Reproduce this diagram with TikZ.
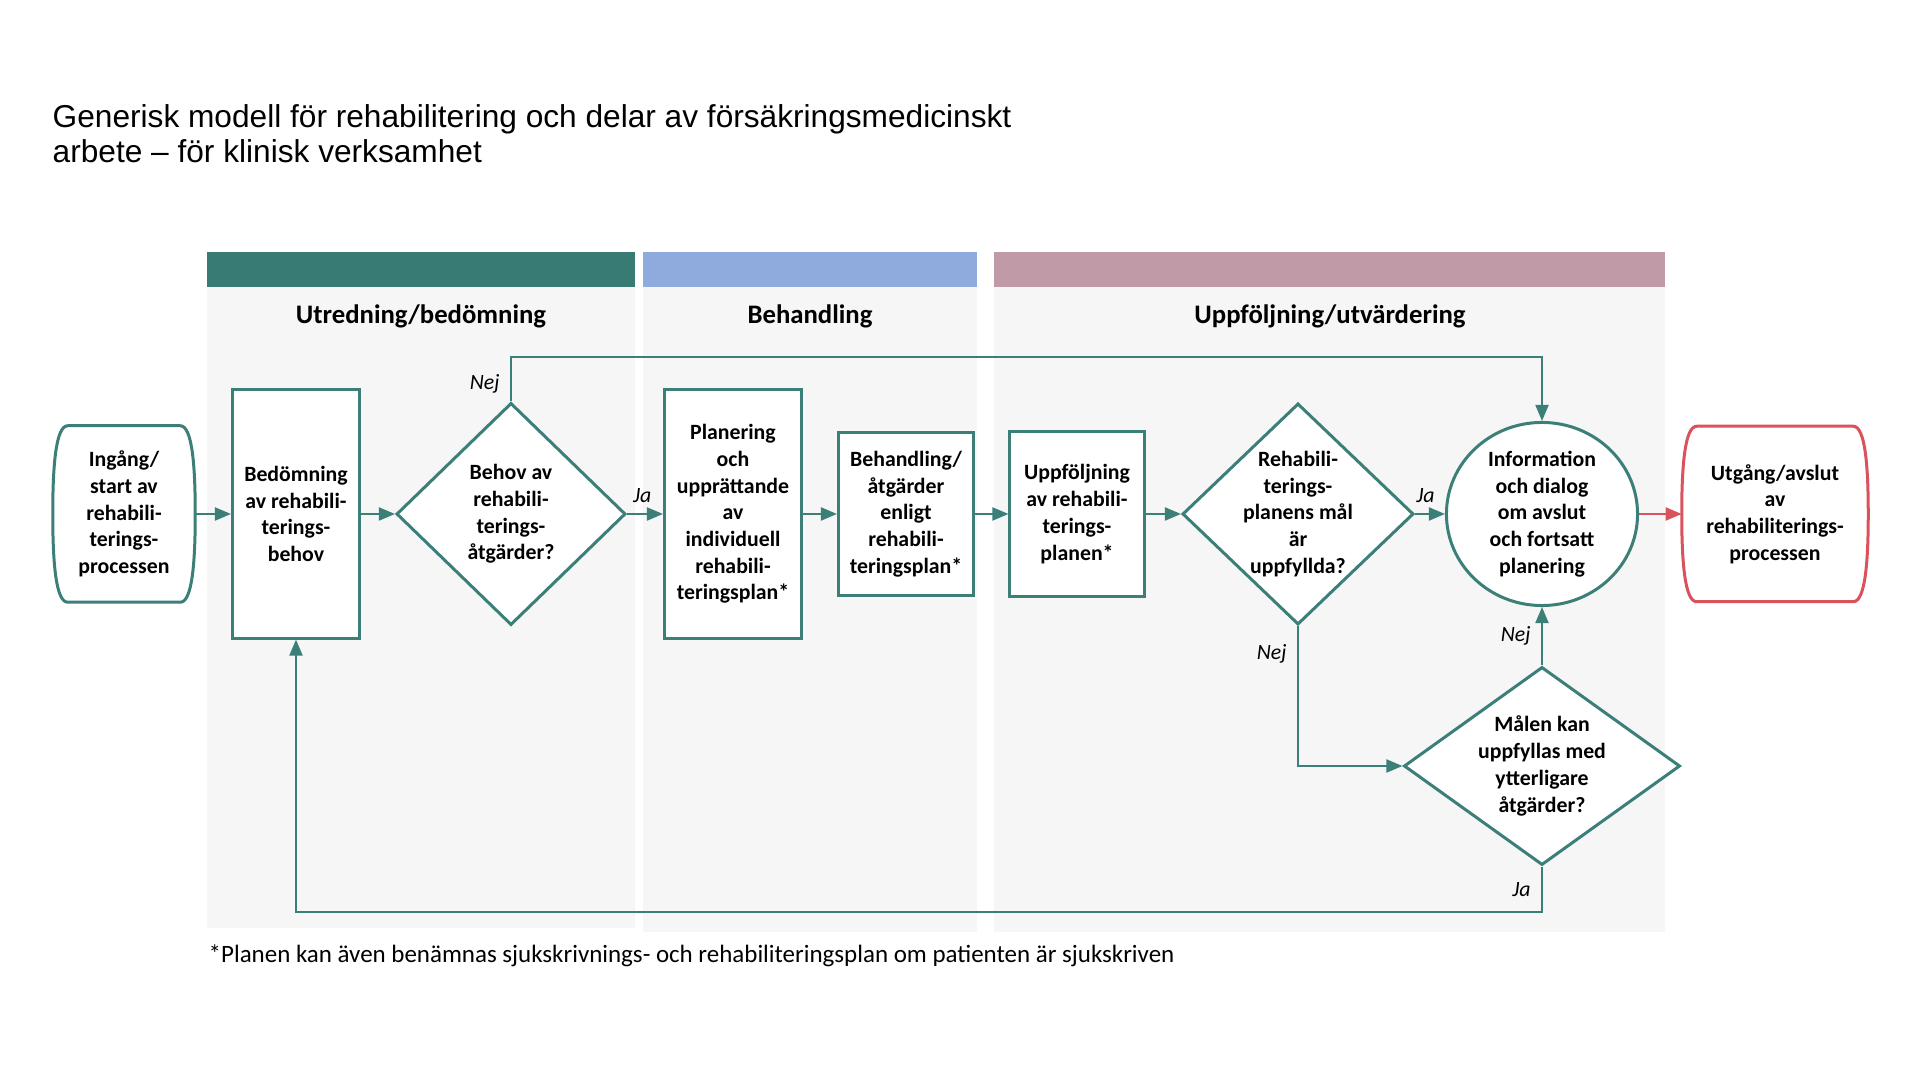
\documentclass[tikz,border=0pt]{standalone}
\usepackage{fontspec}
\setmainfont{Carlito}
\newfontfamily\titlefont{Liberation Sans}
\usetikzlibrary{shapes.geometric,arrows.meta,calc}

\definecolor{rteal}{HTML}{3B7F78}
\definecolor{bandone}{HTML}{387B75}
\definecolor{bandtwo}{HTML}{8FAADC}
\definecolor{bandthree}{HTML}{C09BA7}
\definecolor{bggray}{HTML}{F6F6F6}
\definecolor{rred}{HTML}{D9525C}

\newcommand{\boxfont}{\fontsize{6.2}{7.6}\selectfont\bfseries}
% outline of a start/end node: flat top and bottom, bulging sides
\newcommand{\termpath}[2]{%
  \draw[#2,line width=0.03cm]
    ($(#1.north west)+(15,0)$) -- ($(#1.north east)+(-15,0)$)
    .. controls ($(#1.north east)+(-3,0)$) and ($(#1.north east)+(0,40)$) .. (#1.east)
    .. controls ($(#1.south east)+(0,-40)$) and ($(#1.south east)+(-3,0)$) .. ($(#1.south east)+(-15,0)$)
    -- ($(#1.south west)+(15,0)$)
    .. controls ($(#1.south west)+(3,0)$) and ($(#1.south west)+(0,-40)$) .. (#1.west)
    .. controls ($(#1.north west)+(0,40)$) and ($(#1.north west)+(3,0)$) .. cycle;}

\tikzset{
  stage/.style={fill=bggray,draw=none},
  phase/.style={font=\fontsize{7.6}{9}\selectfont\bfseries,inner sep=0pt},
  box/.style={draw=rteal,line width=0.03cm,fill=white,align=center,inner sep=1pt,font=\boxfont},
  question/.style={diamond,draw=rteal,line width=0.03cm,fill=white,inner sep=0pt},
  roundq/.style={ellipse,draw=rteal,line width=0.03cm,fill=white,inner sep=0pt},
  terminal/.style={rectangle,align=center,inner sep=0pt,font=\boxfont},
  qtext/.style={align=center,font=\boxfont,inner sep=0pt},
  flow/.style={draw=rteal,line width=0.02cm,-{Triangle[length=0.16cm,width=0.13cm]}},
  lbl/.style={font=\fontsize{6.2}{7.6}\selectfont\itshape,inner sep=3pt},
}

\begin{document}
\begin{tikzpicture}[x=0.01cm,y=-0.01cm]
\useasboundingbox (0,0) rectangle (1920,1080);

% title
\node[font=\titlefont\fontsize{9}{10}\selectfont,align=left,anchor=west,inner sep=0pt] (title) at (52,134)
  {Generisk modell för rehabilitering och delar av försäkringsmedicinskt\\arbete – för klinisk verksamhet};

% columns
\fill[stage] (207,287) rectangle (635,928);
\fill[stage] (643,287) rectangle (977,932);
\fill[stage] (994,287) rectangle (1665,932);
\fill[bandone] (207,252) rectangle (635,287);
\fill[bandtwo] (643,252) rectangle (977,287);
\fill[bandthree] (994,252) rectangle (1665,287);
\node[phase] (ph1) at (421,316) {Utredning/bedömning};
\node[phase] (ph2) at (810,316) {Behandling};
\node[phase] (ph3) at (1330,316) {Uppföljning/utvärdering};

% main row
\node[terminal,minimum width=1.41cm,minimum height=1.75cm] (start) at (124,514) {Ingång/\\start av\\rehabili-\\terings-\\processen};
\termpath{start}{rteal}
\node[box,minimum width=1.27cm,minimum height=2.48cm] (assess) at (296,514) {Bedömning\\av rehabili-\\terings-\\behov};
\node[question,minimum width=2.29cm,minimum height=2.22cm] (need) at (511,514) {};
\node[qtext] at (need) {Behov av\\rehabili-\\terings-\\åtgärder?};
\node[box,minimum width=1.37cm,minimum height=2.48cm] (plan) at (733,514) {Planering\\och\\upprättande\\av\\individuell\\rehabili-\\teringsplan*};
\node[box,minimum width=1.35cm,minimum height=1.63cm] (treat) at (906,514) {Behandling/\\åtgärder\\enligt\\rehabili-\\teringsplan*};
\node[box,minimum width=1.34cm,minimum height=1.64cm] (follow) at (1077,514) {Uppföljning\\av rehabili-\\terings-\\planen*};
\node[question,minimum width=2.31cm,minimum height=2.21cm] (goal) at (1298,514) {};
\node[qtext] at (goal) {Rehabili-\\terings-\\planens mål\\är\\uppfyllda?};
\node[roundq,minimum width=1.91cm,minimum height=1.83cm] (info) at (1542,514) {};
\node[qtext] at (info) {Information\\och dialog\\om avslut\\och fortsatt\\planering};
\node[terminal,minimum width=1.85cm,minimum height=1.74cm] (exit) at (1775,514) {Utgång/avslut\\av\\rehabiliterings-\\processen};
\termpath{exit}{rred}
\node[question,minimum width=2.76cm,minimum height=1.98cm] (more) at (1542,766) {};
\node[qtext] at (more) {Målen kan\\uppfyllas med\\ytterligare\\åtgärder?};

% connectors
\coordinate (topturn) at (511,357);
\coordinate (botturn) at (1542,912);
\draw[flow] (start) -- (assess);
\draw[flow] (assess) -- (need);
\draw[flow] (need) -- node[lbl,above,pos=0.42] {Ja} (plan);
\draw[flow] (plan) -- (treat);
\draw[flow] (treat) -- (follow);
\draw[flow] (follow) -- (goal);
\draw[flow] (goal) -- node[lbl,above,pos=0.35] {Ja} (info);
\draw[flow,draw=rred] (info) -- (exit);
\draw[flow] (need.north) -- node[lbl,left,pos=0.4] {Nej} (topturn) -| (info.north);
\draw[flow] (goal.south) |- node[lbl,left,pos=0.1] {Nej} (more.west);
\draw[flow] (more.north) -- node[lbl,left] {Nej} (info.south);
\draw[flow] (more.south) -- node[lbl,left] {Ja} (botturn) -| (assess.south);

% footnote
\node[font=\fontsize{7.1}{8.5}\selectfont,anchor=west,inner sep=0pt] (note) at (208,956)
  {*Planen kan även benämnas sjukskrivnings- och rehabiliteringsplan om patienten är sjukskriven};
\end{tikzpicture}
\end{document}
